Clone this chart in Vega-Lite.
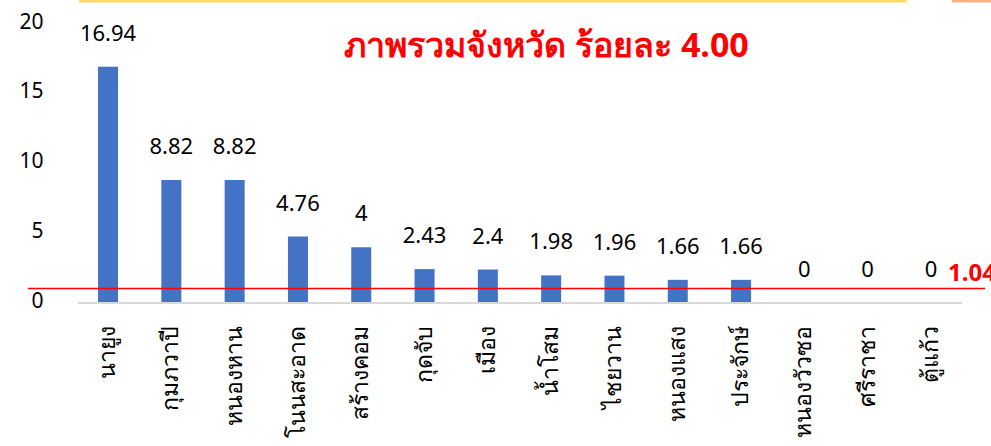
{
  "$schema": "https://vega.github.io/schema/vega-lite/v6.json",
  "width": 957,
  "height": 279,
  "autosize": {"type": "none"},
  "padding": {"left": 28, "top": 24, "right": 6, "bottom": 143},
  "background": "white",
  "config": {"font": "Noto Sans", "view": {"stroke": null}},
  "title": {
    "text": "ภาพรวมจังหวัด ร้อยละ 4.00",
    "color": "#FF0000",
    "fontSize": 34,
    "fontWeight": "bold",
    "anchor": "middle",
    "frame": "group",
    "dx": 40,
    "offset": -64
  },
  "data": {
    "values": [
      {"district": "นายูง", "value": 16.94},
      {"district": "กุมภวาปี", "value": 8.82},
      {"district": "หนองหาน", "value": 8.82},
      {"district": "โนนสะอาด", "value": 4.76},
      {"district": "สร้างคอม", "value": 4},
      {"district": "กุดจับ", "value": 2.43},
      {"district": "เมือง", "value": 2.4},
      {"district": "น้ำโสม", "value": 1.98},
      {"district": "ไชยวาน", "value": 1.96},
      {"district": "หนองแสง", "value": 1.66},
      {"district": "ประจักษ์", "value": 1.66},
      {"district": "หนองวัวซอ", "value": 0},
      {"district": "ศรีราชา", "value": 0},
      {"district": "ตู้แก้ว", "value": 0}
    ]
  },
  "encoding": {
    "x": {
      "field": "district",
      "type": "nominal",
      "sort": null,
      "scale": {"paddingInner": 0.684, "paddingOuter": 0.901, "align": 0.614},
      "axis": {
        "title": null,
        "domain": false,
        "ticks": false,
        "labelAngle": -90,
        "labelPadding": 22,
        "labelFontSize": 23,
        "labelColor": "#000000",
        "labelLimit": 200
      }
    },
    "y": {
      "field": "value",
      "type": "quantitative",
      "scale": {"domain": [0, 20], "nice": false},
      "axis": {
        "title": null,
        "values": [0, 5, 10, 15, 20],
        "grid": false,
        "domain": false,
        "ticks": false,
        "offset": -15,
        "labelPadding": 0,
        "labelFontSize": 21,
        "labelColor": "#000000",
        "labelOffset": -2
      }
    }
  },
  "layer": [
    {"mark": {"type": "bar", "color": "#4472C4"}},
    {
      "mark": {"type": "text", "dy": -33, "baseline": "middle", "fontSize": 22, "color": "#000000"},
      "encoding": {"text": {"field": "value", "type": "quantitative"}}
    },
    {
      "data": {"values": [{"avg": 1.04}]},
      "mark": {"type": "rule", "color": "#FF0000", "strokeWidth": 1.5},
      "encoding": {"x": null, "y": {"field": "avg", "type": "quantitative"}}
    },
    {
      "data": {"values": [{"avg": 1.04, "district": "ตู้แก้ว"}]},
      "mark": {"type": "text", "align": "left", "baseline": "middle", "dx": 17, "dy": -14, "fontSize": 24, "fontWeight": "bold", "color": "#FF0000"},
      "encoding": {
        "y": {"field": "avg", "type": "quantitative"},
        "text": {"field": "avg", "type": "quantitative", "format": ".2f"}
      }
    },
    {
      "data": {"values": [{"a": "นายูง", "b": "ตู้แก้ว", "v": 0}]},
      "mark": {"type": "rule", "color": "#D9D9D9", "strokeWidth": 2, "xOffset": -30, "x2Offset": 31},
      "encoding": {
        "x": {"field": "a", "type": "nominal"},
        "x2": {"field": "b"},
        "y": {"field": "v", "type": "quantitative"}
      }
    },
    {
      "data": {"values": [{"a": "นายูง", "b": "ศรีราชา", "v": 20}]},
      "mark": {"type": "rule", "color": "#FFD966", "strokeWidth": 3, "xOffset": -29, "x2Offset": 39, "yOffset": -23},
      "encoding": {
        "x": {"field": "a", "type": "nominal"},
        "x2": {"field": "b"},
        "y": {"field": "v", "type": "quantitative"}
      }
    },
    {
      "data": {"values": [{"a": "ตู้แก้ว", "b": "ตู้แก้ว", "v": 20}]},
      "mark": {"type": "rule", "color": "#F4B183", "strokeWidth": 3, "xOffset": 21, "x2Offset": 62, "yOffset": -23},
      "encoding": {
        "x": {"field": "a", "type": "nominal"},
        "x2": {"field": "b"},
        "y": {"field": "v", "type": "quantitative"}
      }
    }
  ]
}
